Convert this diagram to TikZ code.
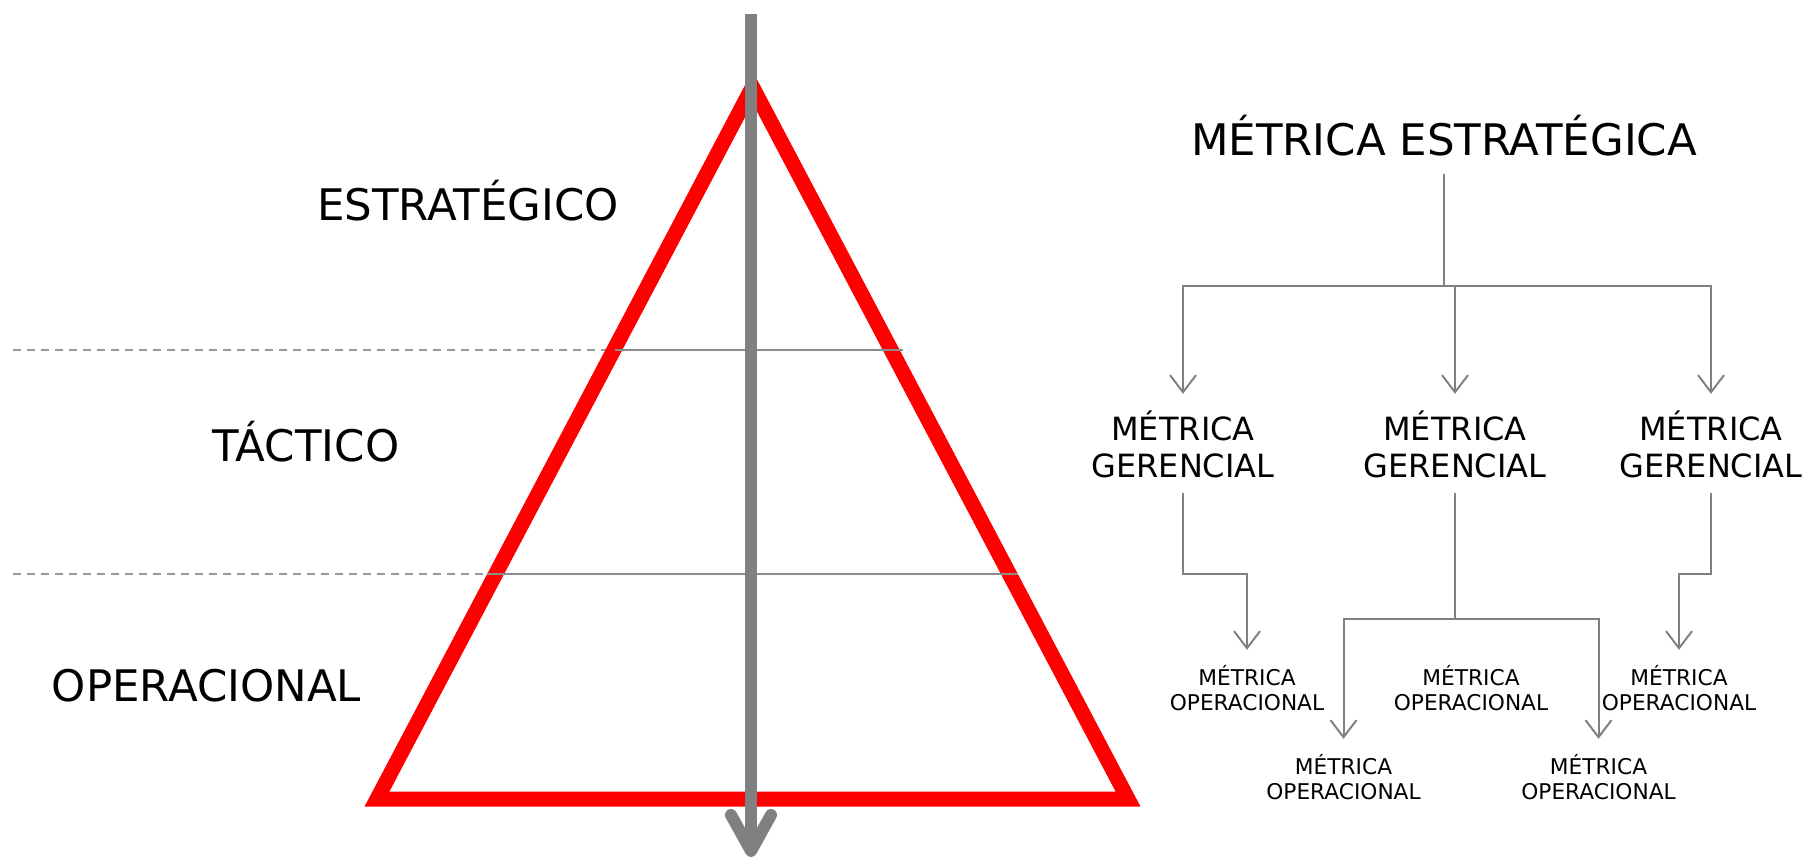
\documentclass[tikz,border=0pt]{standalone}
\usepackage{fontspec}
\setmainfont{DejaVu Sans}
\usetikzlibrary{arrows.meta}
\definecolor{shaft}{HTML}{808080}
\definecolor{lvlgray}{HTML}{8C8C8C}
\definecolor{dashgray}{HTML}{9A9A9A}
\definecolor{conngray}{HTML}{808080}
\tikzset{
  lvl/.style={font=\fontsize{43.5}{52}\selectfont, anchor=base, inner sep=0pt},
  metE/.style={font=\fontsize{43.5}{52}\selectfont, anchor=base, text height=32pt, text depth=8pt, inner xsep=0pt, inner ysep=10pt},
  metG/.style={font=\fontsize{32}{37.7}\selectfont, align=center, anchor=base, text height=68.7pt, text depth=0pt, inner xsep=0pt, inner ysep=15pt},
  metO/.style={font=\fontsize{21.7}{25.7}\selectfont, align=center, anchor=base, text height=50.7pt, text depth=0pt, inner xsep=0pt, inner ysep=10pt},
  conn/.style={draw=conngray, line width=2pt},
  arr/.style={-{Straight Barb[length=17pt,width=26pt]}},
  dashline/.style={draw=dashgray, line width=2.5pt, dash pattern=on 8pt off 6pt},
  solidline/.style={draw=lvlgray, line width=2.5pt},
}
\begin{document}
\begin{tikzpicture}[x=1pt,y=-1pt]
\useasboundingbox (0,0) rectangle (1807,858);
% level separators (dashed part)
\draw[dashline] (13,350) -- (612,350);
\draw[dashline] (13,574) -- (627,574);
% pyramid
\draw[red, line width=15pt, line join=miter] (752.5,87) -- (1128,799) -- (377,799) -- cycle;
% level separators (solid part)
\draw[solidline] (615,350) -- (903,350);
\draw[solidline] (487,574) -- (1018,574);
% central arrow
\coordinate (ttop) at (751,14);
\coordinate (ttip) at (751,851);
\draw[shaft, line width=12pt] (ttop) -- (ttip);
\draw[shaft, line width=12pt, line cap=round, line join=round] (731,815) -- (ttip) -- (771,815);
% level labels
\node[lvl] (le) at (468,221) {ESTRATÉGICO};
\node[lvl] (lt) at (306,461) {TÁCTICO};
\node[lvl] (lo) at (206.5,701) {OPERACIONAL};
% metric tree
\node[metE] (me) at (1444,156) {MÉTRICA ESTRATÉGICA};
\node[metG] (g1) at (1183,477.7) {MÉTRICA\\GERENCIAL};
\node[metG] (g2) at (1455,477.7) {MÉTRICA\\GERENCIAL};
\node[metG] (g3) at (1711,477.7) {MÉTRICA\\GERENCIAL};
\node[metO] (o1) at (1247,710.7) {MÉTRICA\\OPERACIONAL};
\node[metO] (o2) at (1471,710.7) {MÉTRICA\\OPERACIONAL};
\node[metO] (o3) at (1679,710.7) {MÉTRICA\\OPERACIONAL};
\node[metO] (o4) at (1343.5,799.7) {MÉTRICA\\OPERACIONAL};
\node[metO] (o5) at (1598.5,799.7) {MÉTRICA\\OPERACIONAL};
% connectors
\draw[conn] (me.south) -- ++(0,112) coordinate (b0);
\draw[conn, arr] (b0) -| (g1.north);
\draw[conn, arr] (b0) -| (g3.north);
\draw[conn, arr] (g2.north |- b0) -- (g2.north);
\draw[conn, arr] (g1.south) -- ++(0,81) -| (o1.north);
\draw[conn, arr] (g3.south) -- ++(0,81) -| (o3.north);
\draw[conn] (g2.south) -- ++(0,126) coordinate (b1);
\draw[conn, arr] (b1) -| (o4.north);
\draw[conn, arr] (b1) -| (o5.north);
\end{tikzpicture}
\end{document}
